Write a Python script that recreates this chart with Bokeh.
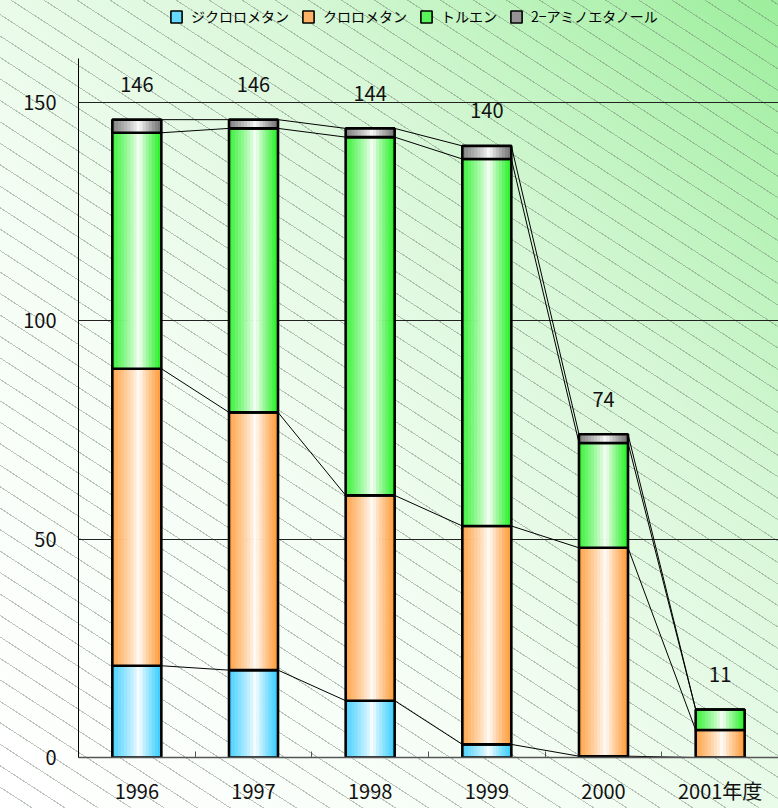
import numpy as np
from bokeh.plotting import figure
from bokeh.layouts import column
from bokeh.models import (ColumnDataSource, FixedTicker, Legend, LegendItem,
                          InlineStyleSheet, Range1d)
from bokeh.core.properties import value
from bokeh.embed import file_html
from bokeh.resources import INLINE

# ---- data ----
years = ["1996", "1997", "1998", "1999", "2000", "2001年度"]
series_names = ["ジクロロメタン", "クロロメタン", "トルエン", "2−アミノエタノール"]
dichloromethane = [21, 20, 13, 3, 0.3, 0]
chloromethane = [68, 59, 47, 50, 47.7, 6.3]
toluene = [54, 65, 82, 84, 24, 4.7]
aminoethanol = [3, 2, 2, 3, 2, 0]
totals = [146, 146, 144, 140, 74, 11]
y_ticks = [0, 50, 100, 150]

base_colors = ["#33CCFF", "#FF9933", "#22F022", "#707070"]
FONT = "Noto Sans CJK JP"
N = 16          # strips per bar for the gradient look
W = 0.42        # bar width (category units)

def mix(c, s):
    r, g, b = int(c[1:3], 16), int(c[3:5], 16), int(c[5:7], 16)
    return "#%02x%02x%02x" % tuple(int(round(255 + (v - 255) * s)) for v in (r, g, b))

def profile(t):
    c = 0.55
    if t < c:
        d = (c - t) / c
        return min(1.0, 0.9 * d ** 0.8)
    d = (t - c) / (1 - c)
    return min(1.0, d ** 0.8)

css = """
:host {
  background:
    repeating-linear-gradient(33deg, rgba(0,0,0,0) 0px, rgba(0,0,0,0) 17px,
                              rgba(110,125,110,0.45) 17px, rgba(110,125,110,0.45) 18px),
    linear-gradient(to top right, #ffffff 0%, #f4fdf4 38%, #d8f7d8 68%, #9cee9c 100%);
}
"""

n = len(years)
TOP = 58
p = figure(width=778, height=808 - TOP, output_backend="svg", toolbar_location=None,
           x_range=Range1d(-0.5, n - 0.5), y_range=Range1d(0, 160),
           min_border_left=78, min_border_right=0, min_border_top=0,
           min_border_bottom=51)
p.background_fill_color = None
p.border_fill_color = None
p.outline_line_color = None

series = [dichloromethane, chloromethane, toluene, aminoethanol]
xs = list(range(n))

# connecting lines between stacked levels
cum = np.zeros(n)
levels = []
for vals in series:
    cum = cum + np.array(vals, dtype=float)
    levels.append(cum.copy())
for lev in levels:
    p.segment(x0=[i + W / 2 for i in range(n - 1)], y0=list(lev[:-1]),
              x1=[i + 1 - W / 2 for i in range(n - 1)], y1=list(lev[1:]),
              line_color="black", line_width=1)

bottom = np.zeros(n)
for s_idx, vals in enumerate(series):
    sx, sw, sb, st, sc = [], [], [], [], []
    for i in range(n):
        for k in range(N):
            t = (k + 0.5) / N
            sx.append(i - W / 2 + t * W)
            sw.append(W / N * 1.15)
            sb.append(bottom[i])
            st.append(bottom[i] + vals[i])
            sc.append(mix(base_colors[s_idx], profile(t)))
    src = ColumnDataSource(dict(x=sx, w=sw, b=sb, t=st, c=sc))
    p.vbar(x="x", width="w", bottom="b", top="t", fill_color="c",
           line_color=None, source=src)
    p.vbar(x=xs, width=W, bottom=list(bottom), top=list(bottom + np.array(vals)),
           fill_color=None, line_color="black", line_width=2.6)
    bottom = bottom + np.array(vals, dtype=float)

# total labels
p.text(x=xs, y=[t + 8 for t in totals], text=[str(t) for t in totals],
       text_align="center", text_baseline="middle", text_font=value(FONT),
       text_font_size="20px", text_color="#111111")

# axes
p.xaxis.ticker = FixedTicker(ticks=xs, minor_ticks=[i + 0.5 for i in range(n)])
p.xaxis.major_label_overrides = {i: years[i] for i in range(n)}
p.xaxis.major_tick_line_color = None
p.xaxis.major_tick_in = 0
p.xaxis.major_tick_out = 0
p.xaxis.minor_tick_in = 6
p.xaxis.minor_tick_out = 0
p.xaxis.minor_tick_line_color = "#555555"
p.xaxis.axis_line_color = "#555555"
p.xaxis.axis_line_width = 1.5
p.xaxis.major_label_standoff = 18
p.xaxis.major_label_text_font = FONT
p.xaxis.major_label_text_font_size = "20px"
p.xaxis.major_label_text_color = "#111111"

p.yaxis.ticker = FixedTicker(ticks=y_ticks)
p.yaxis.major_tick_in = 0
p.yaxis.major_tick_out = 0
p.yaxis.minor_tick_line_color = None
p.yaxis.axis_line_color = "black"
p.yaxis.major_label_standoff = 22
p.yaxis.major_label_text_font = FONT
p.yaxis.major_label_text_font_size = "20px"
p.yaxis.major_label_text_color = "#111111"

p.xgrid.grid_line_color = None
p.ygrid.ticker = FixedTicker(ticks=y_ticks[1:])
p.ygrid.grid_line_color = "#222222"
p.ygrid.grid_line_width = 1

# ---- legend strip on top ----
lg = figure(width=778, height=TOP, output_backend="svg", toolbar_location=None,
            x_axis_type=None, y_axis_type=None, min_border=0,
            x_range=Range1d(0, 1), y_range=Range1d(0, 1))
lg.background_fill_color = None
lg.border_fill_color = None
lg.outline_line_color = None
lg.grid.visible = False
items = []
for s_idx, name in enumerate(series_names):
    r = lg.vbar(x=[0.5], width=0, bottom=[0], top=[0],
                fill_color=mix(base_colors[s_idx], 0.75),
                line_color="black", line_width=1.6)
    items.append(LegendItem(label=name, renderers=[r]))
legend = Legend(items=items, orientation="horizontal", location=(91, TOP - 26),
                label_text_font=FONT, label_text_font_size="14px",
                label_text_color="#000000",
                glyph_width=14, glyph_height=15, label_standoff=8, spacing=12,
                padding=0, margin=0, background_fill_alpha=0, border_line_alpha=0,
                label_height=18)
lg.add_layout(legend, "center")

layout = column(lg, p, spacing=0, stylesheets=[InlineStyleSheet(css=css)])

open("out.html", "w").write(file_html(layout, INLINE))
